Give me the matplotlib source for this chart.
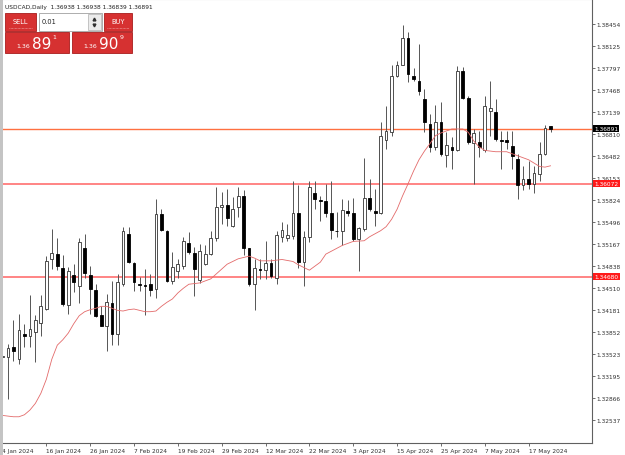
import numpy as np
import pandas as pd
import matplotlib
matplotlib.use('Agg')
import matplotlib.pyplot as plt
from matplotlib.patches import Rectangle
from matplotlib.transforms import blended_transform_factory

# daily OHLC (4 Jan 2024 .. 23 May 2024)
opens = [1.3348, 1.3348, 1.3363, 1.3345, 1.3383, 1.3380, 1.3386, 1.3399, 1.3420, 1.3494,
         1.3502, 1.3482, 1.3426, 1.3471, 1.3454, 1.3511, 1.3471, 1.3449, 1.3411, 1.3395,
         1.3429, 1.3383, 1.3457, 1.3532, 1.3489, 1.3457, 1.3456, 1.3457, 1.3450, 1.3562,
         1.3536, 1.3462, 1.3477, 1.3484, 1.3519, 1.3503, 1.3463, 1.3487, 1.3502, 1.3526,
         1.3573, 1.3576, 1.3544, 1.3572, 1.3589, 1.3511, 1.3457, 1.3480, 1.3479, 1.3488,
         1.3467, 1.3527, 1.3526, 1.3529, 1.3563, 1.3490, 1.3527, 1.3593, 1.3583, 1.3582,
         1.3564, 1.3537, 1.3536, 1.3567, 1.3563, 1.3525, 1.3540, 1.3586, 1.3567, 1.3564,
         1.3673, 1.3684, 1.3768, 1.3785, 1.3825, 1.3768, 1.3761, 1.3734, 1.3697, 1.3662,
         1.3700, 1.3650, 1.3662, 1.3657, 1.3775, 1.3736, 1.3668, 1.3670, 1.3657, 1.3716,
         1.3715, 1.3673, 1.3672, 1.3664, 1.3644, 1.3605, 1.3614, 1.3607, 1.3622, 1.3652,
         1.36938]
highs = [1.3351, 1.3368, 1.3403, 1.3413, 1.3398, 1.3441, 1.3411, 1.3441, 1.3499, 1.3540,
         1.3526, 1.3501, 1.3483, 1.3487, 1.3526, 1.3532, 1.3485, 1.3457, 1.3425, 1.3442,
         1.3462, 1.3472, 1.3542, 1.3542, 1.3490, 1.3468, 1.3480, 1.3472, 1.3584, 1.3569,
         1.3538, 1.3505, 1.3494, 1.3528, 1.3535, 1.3513, 1.3517, 1.3515, 1.3537, 1.3603,
         1.3595, 1.3600, 1.3587, 1.3602, 1.3598, 1.3511, 1.3495, 1.3495, 1.3522, 1.3495,
         1.3537, 1.3550, 1.3547, 1.3612, 1.3605, 1.3537, 1.3612, 1.3612, 1.3589, 1.3607,
         1.3612, 1.3565, 1.3584, 1.3583, 1.3586, 1.3542, 1.3645, 1.3614, 1.3599, 1.3700,
         1.3723, 1.3785, 1.3791, 1.3844, 1.3834, 1.3780, 1.3816, 1.3749, 1.3711, 1.3725,
         1.3729, 1.3684, 1.3677, 1.3783, 1.3781, 1.3738, 1.3689, 1.3686, 1.3738, 1.3761,
         1.3734, 1.3686, 1.3686, 1.3686, 1.3652, 1.3634, 1.3641, 1.3634, 1.3669, 1.3695,
         1.36938]
lows = [1.3347, 1.3286, 1.3343, 1.3338, 1.3363, 1.3363, 1.3341, 1.3380, 1.3419, 1.3480,
        1.3479, 1.3425, 1.3413, 1.3445, 1.3429, 1.3467, 1.3413, 1.3408, 1.3395, 1.3358,
        1.3366, 1.3366, 1.3455, 1.3489, 1.3447, 1.3447, 1.3411, 1.3440, 1.3437, 1.3537,
        1.3460, 1.3457, 1.3467, 1.3480, 1.3502, 1.3440, 1.3459, 1.3486, 1.3501, 1.3522,
        1.3547, 1.3544, 1.3543, 1.3557, 1.3501, 1.3454, 1.3419, 1.3465, 1.3465, 1.3467,
        1.3457, 1.3520, 1.3522, 1.3525, 1.3482, 1.3454, 1.3520, 1.3569, 1.3552, 1.3558,
        1.3525, 1.3527, 1.3515, 1.3559, 1.3522, 1.3477, 1.3537, 1.3567, 1.3544, 1.3562,
        1.3659, 1.3679, 1.3766, 1.3784, 1.3759, 1.3761, 1.3740, 1.3684, 1.3654, 1.3657,
        1.3649, 1.3632, 1.3629, 1.3656, 1.3734, 1.3667, 1.3607, 1.3647, 1.3655, 1.3679,
        1.3671, 1.3629, 1.3659, 1.3629, 1.3585, 1.3598, 1.3599, 1.3594, 1.3612, 1.3650,
        1.36839]
closes = [1.3350, 1.3361, 1.3357, 1.3388, 1.3379, 1.3390, 1.3404, 1.3424, 1.3492, 1.3504,
          1.3485, 1.3428, 1.3477, 1.3460, 1.3520, 1.3474, 1.3450, 1.3410, 1.3395, 1.3431,
          1.3383, 1.3461, 1.3537, 1.3490, 1.3461, 1.3456, 1.3455, 1.3449, 1.3562, 1.3538,
          1.3462, 1.3483, 1.3487, 1.3521, 1.3505, 1.3480, 1.3507, 1.3502, 1.3526, 1.3573,
          1.3576, 1.3556, 1.3570, 1.3589, 1.3511, 1.3457, 1.3482, 1.3479, 1.3488, 1.3470,
          1.3530, 1.3538, 1.3531, 1.3563, 1.3490, 1.3527, 1.3603, 1.3584, 1.3581, 1.3564,
          1.3538, 1.3536, 1.3568, 1.3563, 1.3525, 1.3541, 1.3586, 1.3569, 1.3564, 1.3679,
          1.3686, 1.3768, 1.3785, 1.3825, 1.3771, 1.3764, 1.3745, 1.3699, 1.3662, 1.3700,
          1.3652, 1.3665, 1.3658, 1.3775, 1.3736, 1.3669, 1.3683, 1.3662, 1.3723, 1.3720,
          1.3674, 1.3671, 1.3670, 1.3649, 1.3605, 1.3615, 1.3607, 1.3623, 1.3652, 1.3691,
          1.36891]

# moving average (red line), read at bar positions
ma_idx = [0, 2, 3, 4, 5, 6, 7, 8, 9, 10, 11, 12, 13, 14, 15, 16, 17, 18, 19, 20,
          21, 22, 23, 24, 25, 26, 27, 28, 29, 30, 31, 32, 33, 34, 36, 38, 41, 43, 45, 46,
          47, 49, 51, 53, 54, 56, 58, 59, 62, 64, 66, 67, 69, 70, 71, 72, 73, 74, 75, 76,
          77, 78, 79, 80, 82, 84, 85, 86, 87, 88, 90, 92, 94, 96, 97, 98, 99, 100]
ma_val = [1.3261, 1.3259, 1.3259, 1.3262, 1.3269, 1.3279, 1.3294, 1.3315, 1.3345, 1.3366,
          1.3374, 1.3384, 1.3398, 1.3410, 1.3416, 1.3419, 1.3421, 1.3424, 1.3424, 1.3421,
          1.3418, 1.3417, 1.3419, 1.3420, 1.3418, 1.3416, 1.3416, 1.3417, 1.3424, 1.3430,
          1.3435, 1.3444, 1.3451, 1.3457, 1.3459, 1.3465, 1.3487, 1.3495, 1.3499, 1.3496,
          1.3492, 1.3492, 1.3494, 1.3491, 1.3486, 1.3478, 1.3490, 1.3502, 1.3515, 1.3521,
          1.3522, 1.3528, 1.3537, 1.3543, 1.3554, 1.3569, 1.3589, 1.3607, 1.3626, 1.3643,
          1.3656, 1.3667, 1.3679, 1.3683, 1.3689, 1.3689, 1.3684, 1.3671, 1.3662, 1.3657,
          1.3655, 1.3655, 1.3649, 1.3643, 1.3638, 1.3633, 1.3632, 1.3634]

levels = [1.36072, 1.34680]
last_price = 1.36891
price_ticks = [1.38454, 1.38125, 1.37797, 1.37468, 1.37139, 1.36810, 1.36482, 1.36153,
               1.35824, 1.35496, 1.35167, 1.34838, 1.34510, 1.34181, 1.33852, 1.33523,
               1.33195, 1.32866, 1.32537]
dates = pd.bdate_range('2024-01-04', periods=len(closes))

plt.rcParams['font.family'] = 'DejaVu Sans'
fs = 4.2

fig = plt.figure(figsize=(6.25, 4.56), dpi=100)
ax = fig.add_axes([0, 12 / 456, 592 / 625, 444 / 456])

o = np.array(opens); h = np.array(highs); l = np.array(lows); c = np.array(closes)
x = np.arange(len(c))
up = c >= o
bottom = np.minimum(o, c)
height = np.maximum(np.abs(c - o), 0.00004)

ax.vlines(x, l, h, color='#555555', lw=0.7, zorder=2)
ax.bar(x[up], height[up], bottom=bottom[up], width=0.5, color='white',
       edgecolor='#333333', lw=0.6, zorder=3)
ax.bar(x[~up], height[~up], bottom=bottom[~up], width=0.5, color='black',
       edgecolor='black', lw=0.6, zorder=3)

ax.plot(ma_idx, ma_val, color='#e36a6a', lw=0.6, zorder=4)

for lv in levels:
    ax.axhline(lv, color='#ff8484', lw=1.4, zorder=1)
ax.axhline(last_price, color='#ff7040', lw=1.0, zorder=1)

ax.set_xlim(-0.456, 107.57)
ax.set_ylim(1.32198, 1.38832)

ax.yaxis.tick_right()
ax.set_yticks(price_ticks)
ax.set_yticklabels([f'{v:.5f}' for v in price_ticks])
ax.tick_params(axis='y', length=2.5, width=0.6, pad=0.8, labelsize=fs,
               colors='#555555', labelcolor='#303030')

xt = list(range(0, len(c), 8))
ax.set_xticks(xt)
ax.set_xticklabels([f'{dates[i].day} {dates[i]:%b %Y}' for i in xt])
ax.tick_params(axis='x', length=2.5, width=0.6, pad=1.2, labelsize=fs,
               colors='#555555', labelcolor='#303030')
for lab in ax.get_xticklabels():
    lab.set_ha('left')

for s in ['right', 'bottom']:
    ax.spines[s].set_color('#606060')
    ax.spines[s].set_linewidth(0.8)
ax.spines['top'].set_color('#b8b8b8')
ax.spines['top'].set_linewidth(0.8)
ax.spines['left'].set_visible(False)

# price labels on the right axis
trans = blended_transform_factory(ax.transAxes, ax.transData)
for lv in levels:
    ax.text(1.004, lv, f'{lv:.5f}', transform=trans, color='white', fontsize=fs,
            va='center', ha='left', clip_on=False, zorder=10,
            bbox=dict(boxstyle='square,pad=0.18', fc='#ff1a1a', ec='none'))
ax.text(1.004, last_price, f'{last_price:.5f}', transform=trans, color='white', fontsize=fs,
        va='center', ha='left', clip_on=False, zorder=10,
        bbox=dict(boxstyle='square,pad=0.18', fc='black', ec='none'))

# left window frame
fig.patches.append(Rectangle((0, 0), 2.5 / 625, 1, transform=fig.transFigure,
                             fc='#c4c4c4', ec='none', zorder=20))

# one-click trading panel
ui = fig.add_axes([0, 0, 1, 1], zorder=5)
ui.set_xlim(0, 625)
ui.set_ylim(456, 0)
ui.axis('off')
ui.patch.set_visible(False)

ui.text(5, 7, 'USDCAD,Daily  1.36938 1.36938 1.36839 1.36891', fontsize=fs,
        color='#202020', va='center', ha='left')

red = '#d63131'
edge = '#a81c1c'
ui.add_patch(Rectangle((5, 13.5), 30.5, 18, fc=red, ec=edge, lw=0.6))
ui.add_patch(Rectangle((103.5, 13.5), 28.5, 18, fc=red, ec=edge, lw=0.6))
ui.plot([9, 32], [28.5, 28.5], color='#f4b0b0', lw=0.5, ls=(0, (1, 1)))
ui.plot([107, 129], [28.5, 28.5], color='#f4b0b0', lw=0.5, ls=(0, (1, 1)))
ui.text(20.3, 22, 'SELL', fontsize=4.8, color='white', ha='center', va='center')
ui.text(117.8, 22, 'BUY', fontsize=4.8, color='white', ha='center', va='center')

ui.add_patch(Rectangle((38.5, 13.5), 63, 18, fc='white', ec='#a0a0a0', lw=0.6))
ui.add_patch(Rectangle((87.5, 14.5), 13, 16, fc='#ececec', ec='#b0b0b0', lw=0.5))
ui.plot([94], [19.5], marker='^', ms=2, color='#303030')
ui.plot([94], [26], marker='v', ms=2, color='#303030')
ui.text(42, 22, '0.01', fontsize=4.8, color='#202020', ha='left', va='center')

ui.add_patch(Rectangle((5, 32.5), 64, 21.5, fc=red, ec=edge, lw=0.6))
ui.add_patch(Rectangle((71.5, 32.5), 60.5, 21.5, fc=red, ec=edge, lw=0.6))
ui.text(16.5, 46, '1.36', fontsize=4.5, color='white', ha='left', va='center')
ui.text(32, 44.5, '89', fontsize=11, color='white', ha='left', va='center')
ui.text(52.5, 37.5, '1', fontsize=4.5, color='white', ha='left', va='center')
ui.text(83, 46, '1.36', fontsize=4.5, color='white', ha='left', va='center')
ui.text(98.5, 44.5, '90', fontsize=11, color='white', ha='left', va='center')
ui.text(119.5, 37.5, '9', fontsize=4.5, color='white', ha='left', va='center')

plt.savefig('out.png', dpi=100)
